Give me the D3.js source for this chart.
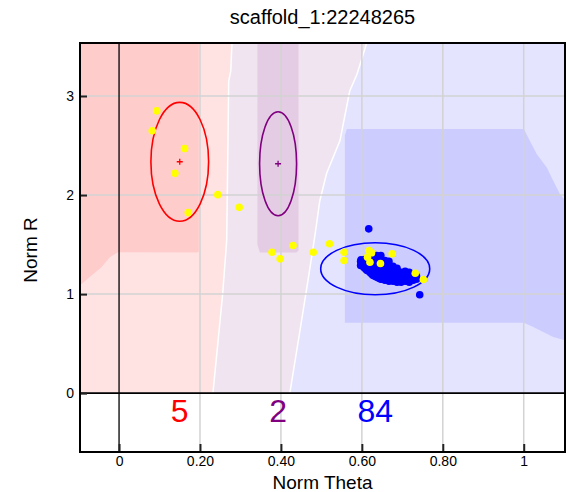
<!DOCTYPE html>
<html>
<head>
<meta charset="utf-8">
<script src="https://cdn.jsdelivr.net/npm/d3@7"></script>
<style>
  body { margin: 0; background: #fff; }
  svg { display: block; }
  text { font-family: "Liberation Sans", Arial, sans-serif; }
</style>
</head>
<body>
<div id="chart"></div>
<script>
const title = 'scaffold_1:22248265';
const xLabel = 'Norm Theta';
const yLabel = 'Norm R';

const xTicks = [0, 0.2, 0.4, 0.6, 0.8, 1];
const xTickLabels = ['0', '0.20', '0.40', '0.60', '0.80', '1'];
const yTicks = [0, 1, 2, 3];
const yTickLabels = ['0', '1', '2', '3'];

// clusters AA / AB / BB
const clusterColors = ['#ff0000', '#800080', '#0000ff'];
const clusterTheta = [0.150, 0.393, 0.633];
const clusterR = [2.336, 2.316, 1.256];
const clusterRadTheta = [0.0713, 0.0457, 0.1347];
const clusterRadR = [0.600, 0.525, 0.262];
const clusterCounts = [5, 2, 84];

// region boundaries [theta, R]
const pinkPurpleBoundary = [[0.279, 3.535], [0.276, 3.25], [0.271, 3.15], [0.266, 1.54], [0.256, 1.0], [0.244, 0.5], [0.232, 0]];
const purpleBlueBoundary = [[0.612, 3.535], [0.588, 3.22], [0.570, 3.05], [0.546, 2.55], [0.513, 2.22], [0.496, 1.94], [0.484, 1.59], [0.467, 1.14], [0.447, 0.63], [0.422, 0]];
const darkRedRegion = [[-0.0965, 3.535], [0.197, 3.535], [0.197, 1.43], [0.193, 1.42], [-0.0025, 1.423], [-0.0229, 1.373], [-0.0435, 1.272], [-0.0725, 1.172], [-0.0965, 1.088]];
const darkPurpleRegion = [[0.342, 3.535], [0.4435, 3.535], [0.4435, 1.44], [0.438, 1.42], [0.348, 1.42], [0.342, 1.50]];
const darkBlueRegion = [[0.558, 2.60], [0.563, 2.666], [1.0005, 2.666], [1.011, 2.581], [1.032, 2.414], [1.057, 2.279], [1.073, 2.145], [1.0895, 2.011], [1.102, 1.944],
  [1.102, 0.534], [1.073, 0.567], [1.048, 0.617], [1.0235, 0.668], [1.0005, 0.712], [0.558, 0.712]];

// called samples (blue), [theta, R]
const bluePoints = [
  [0.597, 1.29], [0.597, 1.33],
  [0.607, 1.26], [0.607, 1.31], [0.607, 1.35],
  [0.617, 1.23], [0.617, 1.27], [0.617, 1.32], [0.617, 1.37],
  [0.627, 1.19], [0.627, 1.24], [0.627, 1.28], [0.627, 1.33], [0.627, 1.38],
  [0.637, 1.17], [0.637, 1.21], [0.637, 1.26], [0.637, 1.30], [0.637, 1.35], [0.637, 1.39],
  [0.647, 1.15], [0.647, 1.19], [0.647, 1.24], [0.647, 1.29], [0.647, 1.34], [0.647, 1.39],
  [0.657, 1.14], [0.657, 1.19], [0.657, 1.23], [0.657, 1.28], [0.657, 1.34],
  [0.667, 1.13], [0.667, 1.18], [0.667, 1.23], [0.667, 1.28], [0.667, 1.33],
  [0.677, 1.13], [0.677, 1.17], [0.677, 1.22], [0.677, 1.28],
  [0.687, 1.12], [0.687, 1.17], [0.687, 1.21], [0.687, 1.26],
  [0.697, 1.12], [0.697, 1.17], [0.697, 1.22],
  [0.707, 1.13], [0.707, 1.18], [0.707, 1.23],
  [0.717, 1.12], [0.717, 1.17], [0.717, 1.22],
  [0.727, 1.14], [0.727, 1.19],
  [0.735, 1.15], [0.735, 1.18],
  [0.602, 1.28], [0.602, 1.32],
  [0.612, 1.24], [0.612, 1.29], [0.612, 1.34],
  [0.622, 1.21], [0.622, 1.26], [0.622, 1.30],
  [0.632, 1.18], [0.632, 1.23], [0.632, 1.28],
  [0.642, 1.16], [0.642, 1.22], [0.642, 1.27],
  [0.652, 1.15], [0.652, 1.21], [0.652, 1.26],
  [0.662, 1.15], [0.662, 1.20], [0.662, 1.25],
  [0.672, 1.15], [0.672, 1.20],
  [0.682, 1.14], [0.682, 1.19],
  [0.692, 1.14], [0.692, 1.19],
  [0.702, 1.15], [0.702, 1.20],
  [0.712, 1.15], [0.712, 1.20],
  [0.722, 1.16],
  [0.598, 1.346], [0.617, 1.659], [0.743, 0.994]
];

// no-calls (yellow), [theta, R]
const yellowPoints = [
  [0.093, 2.850], [0.082, 2.649], [0.162, 2.470], [0.138, 2.219], [0.171, 1.823], [0.244, 2.004], [0.297, 1.876],
  [0.378, 1.423], [0.398, 1.356], [0.430, 1.490], [0.480, 1.423], [0.520, 1.508], [0.556, 1.423], [0.556, 1.339],
  [0.618, 1.440], [0.624, 1.417], [0.614, 1.373], [0.620, 1.322], [0.646, 1.309], [0.675, 1.407], [0.732, 1.211], [0.752, 1.148]
];

const width = 570, height = 492;
const plot = { left: 80, right: 565, top: 43, bottom: 452 };
const xDomain = [-0.0965, 1.102];
const yDomain = [-0.594, 3.535];

const x = d3.scaleLinear().domain(xDomain).range([plot.left, plot.right]);
const y = d3.scaleLinear().domain(yDomain).range([plot.bottom, plot.top]);

const svg = d3.select('#chart').append('svg')
  .attr('width', width)
  .attr('height', height);

svg.append('clipPath').attr('id', 'clip')
  .append('rect')
  .attr('x', plot.left).attr('y', plot.top)
  .attr('width', plot.right - plot.left).attr('height', plot.bottom - plot.top);

const g = svg.append('g').attr('clip-path', 'url(#clip)');
const line = d3.line().x(d => x(d[0])).y(d => y(d[1]));

// background regions
const yTop = yDomain[1], xMax = xDomain[1], xMin = xDomain[0];
g.append('path').attr('d', line([[xMin, yTop], [xMax, yTop], [xMax, 0], [xMin, 0]])).attr('fill', '#ffe3e3');
g.append('path').attr('d', line(pinkPurpleBoundary.concat([[xMax, 0], [xMax, yTop]]))).attr('fill', '#f0e4f0');
g.append('path').attr('d', line(purpleBlueBoundary.concat([[xMax, 0], [xMax, yTop]]))).attr('fill', '#e4e4ff');
g.append('path').attr('d', line(darkRedRegion)).attr('fill', '#ffcccc');
g.append('path').attr('d', line(darkPurpleRegion)).attr('fill', '#e4cce4');
g.append('path').attr('d', line(darkBlueRegion)).attr('fill', '#ccccff');

[pinkPurpleBoundary, purpleBlueBoundary].forEach(b => {
  g.append('path').attr('d', line(b))
    .attr('fill', 'none').attr('stroke', '#fff').attr('stroke-width', 1.5);
});

// grid
g.selectAll('.vgrid').data(xTicks.filter(d => d !== 0)).join('line')
  .attr('x1', d => x(d)).attr('x2', d => x(d))
  .attr('y1', plot.top).attr('y2', plot.bottom)
  .attr('stroke', '#d3d3d3').attr('stroke-width', 1.5);
g.selectAll('.hgrid').data(yTicks.filter(d => d !== 0)).join('line')
  .attr('y1', d => y(d)).attr('y2', d => y(d))
  .attr('x1', plot.left).attr('x2', plot.right)
  .attr('stroke', '#d3d3d3').attr('stroke-width', 1.5);

// zero lines
g.append('line').attr('x1', x(0)).attr('x2', x(0)).attr('y1', plot.top).attr('y2', plot.bottom)
  .attr('stroke', '#000').attr('stroke-width', 1.3);
g.append('line').attr('x1', plot.left).attr('x2', plot.right).attr('y1', y(0)).attr('y2', y(0))
  .attr('stroke', '#000').attr('stroke-width', 1.7);

// cluster ellipses + centres
clusterTheta.forEach((t, i) => {
  g.append('ellipse')
    .attr('cx', x(t)).attr('cy', y(clusterR[i]))
    .attr('rx', x(t + clusterRadTheta[i]) - x(t))
    .attr('ry', y(clusterR[i]) - y(clusterR[i] + clusterRadR[i]))
    .attr('fill', 'none').attr('stroke', clusterColors[i]).attr('stroke-width', 1.6);
  const cx = x(t), cy = y(clusterR[i]);
  g.append('path').attr('d', `M${cx - 3},${cy}H${cx + 3}M${cx},${cy - 3}V${cy + 3}`)
    .attr('stroke', clusterColors[i]).attr('stroke-width', 1.3);
});

// samples
g.selectAll('.blue').data(bluePoints).join('circle')
  .attr('cx', d => x(d[0])).attr('cy', d => y(d[1])).attr('r', 3.8)
  .attr('fill', '#0000ff');
g.selectAll('.yellow').data(yellowPoints).join('circle')
  .attr('cx', d => x(d[0])).attr('cy', d => y(d[1])).attr('r', 3.8)
  .attr('fill', '#ffff00');

// counts
clusterTheta.forEach((t, i) => {
  svg.append('text')
    .attr('x', x(t)).attr('y', y(-0.29))
    .attr('text-anchor', 'middle')
    .attr('font-size', 32)
    .attr('fill', clusterColors[i])
    .text(clusterCounts[i]);
});

// axes
const xAxis = svg.append('g')
  .attr('transform', `translate(0,${plot.bottom})`)
  .call(d3.axisBottom(x).tickValues(xTicks).tickFormat((d, i) => xTickLabels[i])
    .tickSizeInner(-8).tickSizeOuter(0).tickPadding(4));
const yAxis = svg.append('g')
  .attr('transform', `translate(${plot.left},0)`)
  .call(d3.axisLeft(y).tickValues(yTicks).tickFormat((d, i) => yTickLabels[i])
    .tickSizeInner(-7).tickSizeOuter(0).tickPadding(6));
[xAxis, yAxis].forEach(a => {
  a.select('.domain').remove();
  a.selectAll('line').attr('stroke', '#222').attr('stroke-width', 2);
  a.selectAll('text').attr('font-size', 14).attr('fill', '#000')
    .style('font-family', '"Liberation Sans", Arial, sans-serif');
});

// frame
svg.append('rect')
  .attr('x', plot.left).attr('y', plot.top)
  .attr('width', plot.right - plot.left).attr('height', plot.bottom - plot.top)
  .attr('fill', 'none').attr('stroke', '#000').attr('stroke-width', 2);

// titles
svg.append('text')
  .attr('x', (plot.left + plot.right) / 2).attr('y', 24)
  .attr('text-anchor', 'middle').attr('font-size', 20)
  .text(title);
svg.append('text')
  .attr('x', (plot.left + plot.right) / 2).attr('y', 489)
  .attr('text-anchor', 'middle').attr('font-size', 19)
  .text(xLabel);
svg.append('text')
  .attr('transform', `translate(37,250) rotate(-90)`)
  .attr('text-anchor', 'middle').attr('font-size', 19)
  .text(yLabel);
</script>
</body>
</html>
